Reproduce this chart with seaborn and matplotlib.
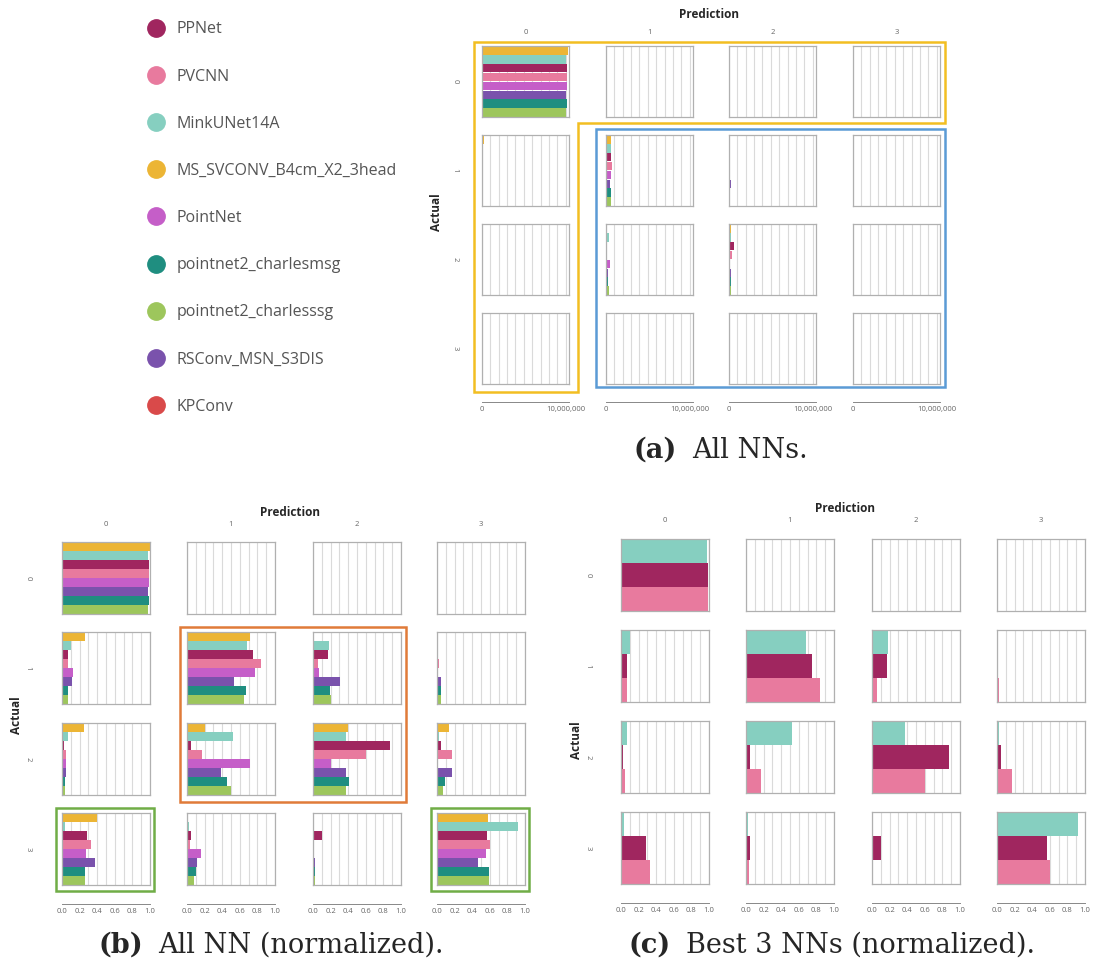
import matplotlib
matplotlib.use("Agg")
import matplotlib.pyplot as plt
from matplotlib.lines import Line2D
from matplotlib.patches import Polygon, Rectangle
import seaborn as sns
import pandas as pd

W, H = 1094, 964

# legend order and colours
legend_models = ["PPNet", "PVCNN", "MinkUNet14A", "MS_SVCONV_B4cm_X2_3head", "PointNet",
                 "pointnet2_charlesmsg", "pointnet2_charlesssg", "RSConv_MSN_S3DIS", "KPConv"]
legend_colors = ["#A0265F", "#E87A9E", "#86CFC0", "#ECB535", "#C55EC8",
                 "#1F8E80", "#9DC65C", "#7A52AC", "#D94A4A"]

# bar order inside each cell (top to bottom)
bar_models = ["MS_SVCONV_B4cm_X2_3head", "MinkUNet14A", "PPNet", "PVCNN", "PointNet",
              "RSConv_MSN_S3DIS", "pointnet2_charlesmsg", "pointnet2_charlesssg"]
best3_models = ["MinkUNet14A", "PPNet", "PVCNN"]

# row-normalised confusion matrices, rows = actual, cols = prediction
ms_svconv = [[1.00, 0.00, 0.00, 0.00],
             [0.26, 0.72, 0.01, 0.01],
             [0.25, 0.21, 0.40, 0.14],
             [0.40, 0.005, 0.01, 0.58]]
minkunet = [[0.98, 0.00, 0.01, 0.01],
            [0.105, 0.68, 0.185, 0.015],
            [0.065, 0.52, 0.38, 0.027],
            [0.035, 0.025, 0.008, 0.92]]
ppnet = [[0.99, 0.00, 0.00, 0.00],
         [0.072, 0.745, 0.175, 0.005],
         [0.028, 0.05, 0.87, 0.045],
         [0.28, 0.042, 0.10, 0.57]]
pvcnn = [[0.99, 0.00, 0.00, 0.00],
         [0.068, 0.84, 0.06, 0.02],
         [0.042, 0.175, 0.60, 0.165],
         [0.335, 0.038, 0.015, 0.60]]
pointnet = [[0.99, 0.00, 0.00, 0.00],
            [0.125, 0.77, 0.07, 0.01],
            [0.05, 0.72, 0.20, 0.01],
            [0.275, 0.155, 0.005, 0.56]]
rsconv = [[0.98, 0.005, 0.00, 0.00],
          [0.11, 0.53, 0.305, 0.04],
          [0.04, 0.39, 0.376, 0.165],
          [0.374, 0.11, 0.02, 0.47]]
pn2_msg = [[0.99, 0.00, 0.00, 0.00],
           [0.07, 0.67, 0.19, 0.045],
           [0.03, 0.46, 0.41, 0.088],
           [0.256, 0.10, 0.02, 0.59]]
pn2_ssg = [[0.98, 0.00, 0.00, 0.00],
           [0.07, 0.65, 0.205, 0.05],
           [0.03, 0.50, 0.38, 0.073],
           [0.267, 0.08, 0.02, 0.59]]

# number of points per actual class (same test set for every network)
class_support = [10_250_000, 850_000, 620_000, 110_000]

norm_by_model = {
    "MS_SVCONV_B4cm_X2_3head": ms_svconv, "MinkUNet14A": minkunet, "PPNet": ppnet,
    "PVCNN": pvcnn, "PointNet": pointnet, "RSConv_MSN_S3DIS": rsconv,
    "pointnet2_charlesmsg": pn2_msg, "pointnet2_charlesssg": pn2_ssg,
}
palette = dict(zip(legend_models, legend_colors))

FONT = ["Open Sans", "DejaVu Sans"]
GREY = "#666666"


def box(x0, y0, x1, y1):
    return [x0 / W, 1 - y1 / H, (x1 - x0) / W, (y1 - y0) / H]


def fx(x):
    return x / W


def fy(y):
    return 1 - y / H


def build_table(counts=False):
    rows = []
    for m, mat in norm_by_model.items():
        for a in range(4):
            for p in range(4):
                v = mat[a][p] * class_support[a] if counts else mat[a][p]
                rows.append({"model": m, "actual": a, "pred": p, "value": v})
    return pd.DataFrame(rows)


def draw_panel(fig, df, models, col_x, row_y, cw, rh, axis_y, xmax, xticks, xlabels,
               title_xy, col_lab_y, actual_xy, row_lab_x, bar_width):
    for a in range(4):
        for p in range(4):
            ax = fig.add_axes(box(col_x[p], row_y[a], col_x[p] + cw, row_y[a] + rh))
            cell = df[(df.actual == a) & (df.pred == p) & (df.model.isin(models))]
            sns.barplot(data=cell, x="value", y="model", hue="model", order=models,
                        hue_order=models, palette=palette, orient="h", width=bar_width,
                        saturation=1, errorbar=None, legend=False, linewidth=0, ax=ax)
            ax.set_xlim(0, xmax)
            ax.set_ylim(len(models) - 0.5, -0.5)
            ax.set_xticks(xticks)
            ax.set_xticklabels([])
            ax.tick_params(axis="x", length=0)
            ax.set_yticks(range(len(models)))
            ax.set_yticklabels([])
            ax.tick_params(axis="y", length=3, color="#A0A0A0", width=0.6)
            ax.grid(axis="x", color="#DADADA", lw=0.8)
            ax.grid(axis="y", visible=False)
            ax.set_axisbelow(True)
            ax.set_xlabel("")
            ax.set_ylabel("")
            ax.set_facecolor("white")
            for s in ax.spines.values():
                s.set_color("#B0B0B0")
                s.set_linewidth(0.9)
                s.set_visible(True)
    # detached x axes under the bottom row
    for p in range(4):
        sx = fig.add_axes(box(col_x[p], axis_y - 0.5, col_x[p] + cw, axis_y))
        sx.set_xlim(0, xmax)
        sx.set_xticks(xticks)
        sx.set_xticklabels(xlabels, fontsize=5.5, color=GREY, family=FONT)
        sx.set_yticks([])
        sx.tick_params(axis="x", direction="in", length=3, color="#888888", width=0.6, pad=3)
        for side in ["left", "right", "top"]:
            sx.spines[side].set_visible(False)
        sx.spines["bottom"].set_color("#888888")
        sx.spines["bottom"].set_linewidth(0.7)
        sx.patch.set_alpha(0)
    fig.text(fx(title_xy[0]), fy(title_xy[1]), "Prediction", ha="center", va="center",
             fontsize=8.5, fontweight="bold", family=FONT)
    for p in range(4):
        fig.text(fx(col_x[p] + cw / 2), fy(col_lab_y), str(p), ha="center", va="center",
                 fontsize=5.5, color=GREY, family=FONT)
    fig.text(fx(actual_xy[0]), fy(actual_xy[1]), "Actual", ha="center", va="center",
             rotation=90, fontsize=8.5, fontweight="bold", family=FONT)
    for a in range(4):
        fig.text(fx(row_lab_x), fy(row_y[a] + rh / 2), str(a), ha="center", va="center",
                 rotation=-90, fontsize=5.5, color=GREY, family=FONT)


def caption(fig, rest_x, y, label, rest):
    fig.text(fx(rest_x - 15), fy(y), label, ha="right", va="center", fontsize=19.5,
             fontweight="bold", family="DejaVu Serif")
    fig.text(fx(rest_x), fy(y), rest, ha="left", va="center", fontsize=19.5,
             family="DejaVu Serif")


sns.set_theme(style="white")
plt.rcParams["font.family"] = FONT
fig = plt.figure(figsize=(W / 100, H / 100), dpi=100)

raw = build_table(counts=True)
norm = build_table(counts=False)

# (a) all NNs, raw counts
draw_panel(fig, raw, bar_models, [482, 606, 729, 853], [46, 135, 224, 313], 87, 71, 402,
           10_400_000, [i * 1_000_000 for i in range(11)],
           ["0"] + [""] * 9 + ["10,000,000"],
           (709, 15), 33, (437, 212), 455, 0.95)

# (b) all NNs, normalised
frac_ticks = [i / 10 for i in range(11)]
frac_labels = [f"{t:.1f}" if i % 2 == 0 else "" for i, t in enumerate(frac_ticks)]
draw_panel(fig, norm, bar_models, [62, 187, 313, 437], [542, 632, 723, 813], 88, 72, 904,
           1.0, frac_ticks, frac_labels, (290, 512), 525, (17, 715), 28, 0.95)

# (c) best 3 NNs, normalised
draw_panel(fig, norm, best3_models, [621, 746, 872, 997], [539, 630, 721, 812], 88, 72, 903,
           1.0, frac_ticks, frac_labels, (845, 508), 521, (577, 740), 588, 1.0)

# highlight boxes
fig.patches.append(Polygon([(fx(474), fy(42)), (fx(945), fy(42)), (fx(945), fy(123)),
                            (fx(578), fy(123)), (fx(578), fy(392)), (fx(474), fy(392))],
                           closed=True, fill=False, ec="#F2BE22", lw=1.8,
                           transform=fig.transFigure))
for (x0, y0, x1, y1), c in [((596, 129, 945, 387), "#5B9BD5"),
                            ((180, 627, 406, 802), "#E07B39"),
                            ((56, 808, 154, 891), "#70AD47"),
                            ((431, 808, 529, 891), "#70AD47")]:
    fig.patches.append(Rectangle((fx(x0), fy(y1)), (x1 - x0) / W, (y1 - y0) / H, fill=False,
                                 ec=c, lw=1.8, transform=fig.transFigure))

# legend
handles = [Line2D([], [], marker="o", ls="", color=c, markersize=12.5) for c in legend_colors]
fig.legend(handles, legend_models, loc="upper left", bbox_to_anchor=(fx(126), fy(7)),
           frameon=False, labelspacing=1.95, handletextpad=0.25,
           labelcolor="#555555", prop={"family": FONT, "size": 11.5})

caption(fig, 692, 450, "(a)", "All NNs.")
caption(fig, 158, 945, "(b)", "All NN (normalized).")
caption(fig, 686, 945, "(c)", "Best 3 NNs (normalized).")

fig.savefig("out.png", dpi=100)
